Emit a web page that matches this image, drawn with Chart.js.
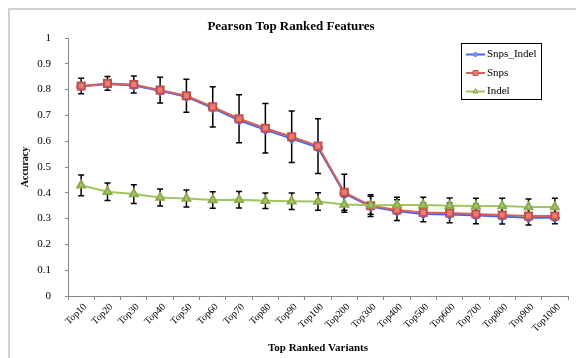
<!DOCTYPE html>
<html>
<head>
<meta charset="utf-8">
<script src="https://cdn.jsdelivr.net/npm/chart.js@4"></script>
<style>
  html, body { margin: 0; padding: 0; background: #fff; }
  #wrap { position: relative; width: 576px; height: 358px; overflow: hidden; }
  #frame { position: absolute; left: 8px; top: 8px; width: 640px; height: 420px; border: 2px solid #d0d0d0; }
  #chart { position: absolute; left: 0; top: 0; }
</style>
</head>
<body>
<div id="wrap">
  <div id="frame"></div>
  <canvas id="chart" width="576" height="358"></canvas>
</div>
<script>
const categories = ['Top10', 'Top20', 'Top30', 'Top40', 'Top50', 'Top60', 'Top70', 'Top80', 'Top90', 'Top100',
    'Top200', 'Top300', 'Top400', 'Top500', 'Top600', 'Top700', 'Top800', 'Top900', 'Top1000'];

const snpsIndel = [0.812, 0.822, 0.816, 0.795, 0.772, 0.728, 0.681, 0.644, 0.610, 0.575,
    0.397, 0.347, 0.328, 0.318, 0.316, 0.312, 0.308, 0.303, 0.303];
const snps = [0.814, 0.824, 0.820, 0.798, 0.776, 0.733, 0.687, 0.650, 0.617, 0.581,
    0.402, 0.350, 0.333, 0.324, 0.322, 0.318, 0.314, 0.310, 0.310];
const indel = [0.429, 0.404, 0.395, 0.382, 0.378, 0.372, 0.373, 0.369, 0.367, 0.366,
    0.355, 0.352, 0.353, 0.353, 0.350, 0.349, 0.349, 0.345, 0.345];

// +/- error values (black bars)
const snpsErr = [0.030, 0.027, 0.033, 0.050, 0.064, 0.078, 0.093, 0.096, 0.100, 0.106,
    0.070, 0.042, 0.040, 0.036, 0.038, 0.038, 0.035, 0.035, 0.030];
const indelErr = [0.040, 0.034, 0.036, 0.033, 0.033, 0.032, 0.032, 0.030, 0.032, 0.034,
    0.030, 0.035, 0.030, 0.030, 0.030, 0.030, 0.030, 0.031, 0.034];

const yTicks = [0, 0.1, 0.2, 0.3, 0.4, 0.5, 0.6, 0.7, 0.8, 0.9, 1];

const serif = "'Liberation Serif', 'Times New Roman', serif";

const errorBars = {
    id: 'errorBars',
    beforeDatasetsDraw(chart) {
        const { ctx, scales: { x, y } } = chart;
        const sets = [[snps, snpsErr], [indel, indelErr]];
        ctx.save();
        ctx.strokeStyle = '#000';
        ctx.lineWidth = 1.5;
        sets.forEach(([vals, errs]) => {
            vals.forEach((v, i) => {
                const px = x.getPixelForValue(i);
                const top = y.getPixelForValue(v + errs[i]);
                const bot = y.getPixelForValue(v - errs[i]);
                ctx.beginPath();
                ctx.moveTo(px, top); ctx.lineTo(px, bot);
                ctx.moveTo(px - 3, top); ctx.lineTo(px + 3, top);
                ctx.moveTo(px - 3, bot); ctx.lineTo(px + 3, bot);
                ctx.stroke();
            });
        });
        ctx.restore();
    }
};

// Excel-like boxed legend inside the plot
const boxLegend = {
    id: 'boxLegend',
    afterDraw(chart) {
        const { ctx } = chart;
        const bx = 461, by = 43, bw = 80, bh = 56;
        ctx.save();
        ctx.fillStyle = '#fff';
        ctx.fillRect(bx, by, bw, bh);
        ctx.strokeStyle = '#000';
        ctx.lineWidth = 1;
        ctx.strokeRect(bx + 0.5, by + 0.5, bw, bh);
        chart.data.datasets.forEach((ds, i) => {
            const ry = by + 11.5 + i * 18.5;
            ctx.strokeStyle = ds.borderColor;
            ctx.lineWidth = 2;
            ctx.beginPath();
            ctx.moveTo(bx + 5, ry); ctx.lineTo(bx + 24, ry);
            ctx.stroke();
            ctx.fillStyle = ds.pointBackgroundColor;
            ctx.strokeStyle = ds.pointBorderColor;
            ctx.lineWidth = 1;
            Chart.helpers.drawPoint(ctx, {
                pointStyle: ds.pointStyle, radius: ds.pointRadius - 1.5, borderWidth: 1
            }, bx + 14.5, ry);
            ctx.fillStyle = '#000';
            ctx.font = '11px ' + serif;
            ctx.textBaseline = 'middle';
            ctx.fillText(ds.label, bx + 26, ry);
        });
        ctx.restore();
    }
};

new Chart(document.getElementById('chart'), {
    type: 'line',
    data: {
        labels: categories,
        datasets: [
            {
                label: 'Snps_Indel', data: snpsIndel, order: 3,
                borderColor: '#4169f0', borderWidth: 2,
                pointStyle: 'rectRot', pointRadius: 4,
                pointBackgroundColor: '#7da0f7', pointBorderColor: '#4169f0'
            },
            {
                label: 'Snps', data: snps, order: 2,
                borderColor: '#d9605a', borderWidth: 2,
                pointStyle: 'rect', pointRadius: 5,
                pointBackgroundColor: '#ec7c76', pointBorderColor: '#c0504d'
            },
            {
                label: 'Indel', data: indel, order: 1,
                borderColor: '#a4c462', borderWidth: 2,
                pointStyle: 'triangle', pointRadius: 4.5,
                pointBackgroundColor: '#a8c96a', pointBorderColor: '#8aab4c'
            }
        ]
    },
    options: {
        responsive: false,
        animation: false,
        events: [],
        layout: { padding: { left: 14, right: 8, top: 0, bottom: 0 } },
        plugins: {
            legend: { display: false },
            tooltip: { enabled: false },
            title: {
                display: true,
                text: 'Pearson Top Ranked Features',
                color: '#000',
                font: { family: serif, size: 13, weight: 'bold' },
                padding: { top: 19, bottom: 3.4 }
            }
        },
        scales: {
            x: {
                offset: true,
                grid: { display: true, offset: true, drawOnChartArea: false, tickLength: 4, color: '#888' },
                border: { color: '#888', width: 1 },
                ticks: {
                    autoSkip: false, maxRotation: 45, minRotation: 45, padding: 1, labelOffset: 4,
                    color: '#000', font: { family: serif, size: 10 }
                },
                title: {
                    display: true, text: 'Top Ranked Variants', color: '#000',
                    font: { family: serif, size: 11, weight: 'bold' },
                    padding: { top: 0, bottom: 3 }
                },
                afterFit(scale) { scale.height = 62; }
            },
            y: {
                min: 0, max: 1,
                afterBuildTicks(scale) { scale.ticks = yTicks.map(v => ({ value: v })); },
                grid: { display: true, drawOnChartArea: false, tickLength: 3, color: '#888' },
                border: { color: '#888', width: 1 },
                ticks: {
                    padding: 14, color: '#000', font: { family: serif, size: 11 },
                    callback: v => String(Math.round(v * 10) / 10)
                },
                title: {
                    display: true, text: 'Accuracy', color: '#000',
                    font: { family: serif, size: 10, weight: 'bold' },
                    padding: { top: 5, bottom: 0 }
                },
                afterFit(scale) { scale.width = 54; }
            }
        }
    },
    plugins: [errorBars, boxLegend]
});
</script>
</body>
</html>
